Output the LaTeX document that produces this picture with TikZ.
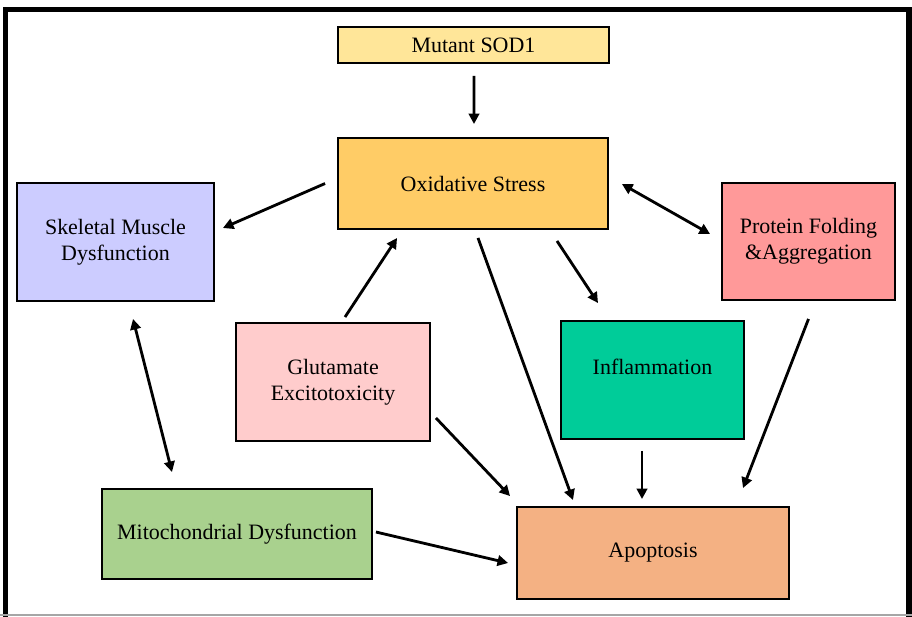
\documentclass[tikz,border=0pt]{standalone}
\usepackage{fontspec}
\setmainfont{Liberation Serif}
\usepackage{tikz}
\usetikzlibrary{arrows.meta}
\usetikzlibrary{calc}
\usepackage{xcolor}

\definecolor{sodyellow}{HTML}{FFE699}
\definecolor{oxorange}{HTML}{FFCC66}
\definecolor{musclelilac}{HTML}{CCCCFF}
\definecolor{glupink}{HTML}{FFCCCC}
\definecolor{protred}{HTML}{FF9999}
\definecolor{inflgreen}{HTML}{00CC99}
\definecolor{mitogreen}{HTML}{A9D18E}
\definecolor{apoorange}{HTML}{F4B183}

\begin{document}
\begin{tikzpicture}[x=0.02cm,y=-0.02cm]
  \tikzset{box/.style = {shape=rectangle,draw,line width=1.1pt,align=center,inner sep=2pt,font=\fontsize{12.5}{14.8}\selectfont}}
  \tikzset{%
  tipA/.tip={Triangle[length=6pt,width=6pt]},
}
  \tikzset{edge/.style = {-tipA,line width=1.6pt}}
  \tikzset{dedge/.style = {tipA-tipA,line width=1.6pt}}

	\useasboundingbox (0,0) rectangle (912,616);
	\clip (0,0) rectangle (912,616);

	% frame
	\draw[line width=3pt] (5.5,640) -- (5.5,9.5) -- (909,9.5) -- (909,640);
	\draw[black!35,line width=0.8pt] (0,615) -- (912,615);

	\node[box,fill=sodyellow,minimum width=5.42cm,minimum height=0.72cm] (SOD) at (473.5,45) {Mutant SOD1};
	\node[box,fill=oxorange,minimum width=5.4cm,minimum height=1.82cm] (OS) at (473,183.5) {Oxidative Stress};

	\node[box,fill=musclelilac,minimum width=3.94cm,minimum height=2.36cm] (SMD) at (115.5,242) {Skeletal Muscle\\Dysfunction};
	\node[box,fill=protred,minimum width=3.46cm,minimum height=2.34cm] (PF) at (808.5,241.5) {Protein Folding\\\&Aggregation};

	\node[box,fill=glupink,minimum width=3.88cm,minimum height=2.36cm] (GE) at (333,382) {Glutamate\\Excitotoxicity};
	\node[box,fill=inflgreen,minimum width=3.66cm,minimum height=2.36cm] (INF) at (652.5,380) {Inflammation\\ \mbox{}};

	\node[box,fill=mitogreen,minimum width=5.4cm,minimum height=1.8cm] (MD) at (237,534) {Mitochondrial Dysfunction};
	\node[box,fill=apoorange,minimum width=5.44cm,minimum height=1.84cm] (AP) at (653,553) {Apoptosis};

	% arrows
	\draw[edge] ($(SOD.south)+(0.5,12)$) -- ($(OS.north)+(1,-13)$);
	\draw[edge] ($(OS.west)+(-12,0)$) -- ($(SMD.east)+(8,-14)$);
	\draw[edge] ($(GE.north)+(12,-5)$) -- ($(OS.south west)+(60,8)$);
	\draw[edge] ($(OS.south)+(84,11)$) -- ($(INF.north)+(-54.5,-17)$);
	\draw[edge] ($(OS.south)+(5,8)$) -- ($(AP.north)+(-80,-6)$);
	\draw[edge] ($(GE.east)+(5,36)$) -- ($(AP.north west)+(-6,-10)$);
	\draw[edge] ($(INF.south)+(-10.5,11)$) -- ($(AP.north)+(-11,-7)$);
	\draw[edge] ($(PF.south)+(0,18)$) -- ($(AP.north)+(90,-18)$);
	\draw[edge] ($(MD.east)+(3,-2)$) -- ($(AP.west)+(-8,10)$);

	\draw[dedge] ($(SMD.south)+(17.5,17)$) -- ($(MD.north)+(-65,-16)$);
	\draw[dedge] ($(OS.east)+(13,0.5)$) -- ($(PF.west)+(-11,-7.5)$);

\end{tikzpicture}
\end{document}
